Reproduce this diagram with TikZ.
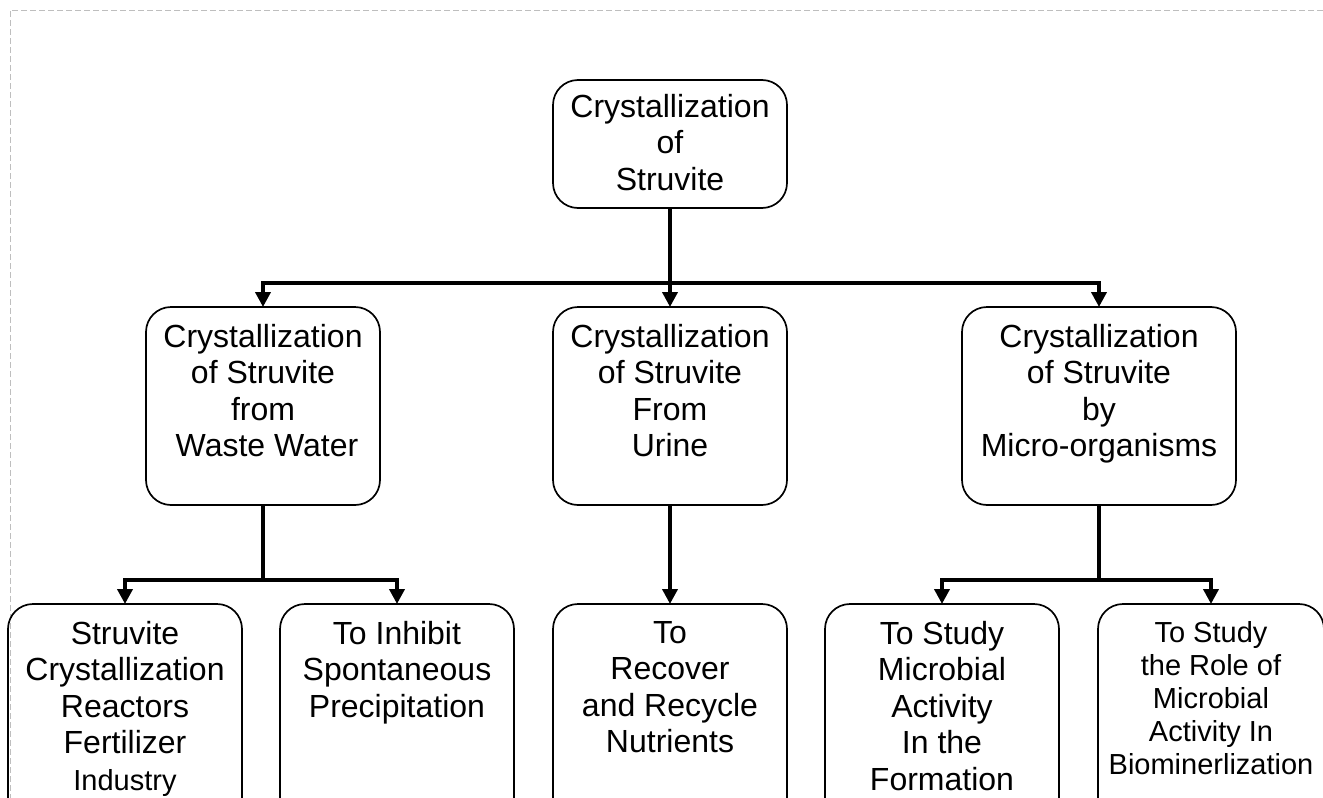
\documentclass[tikz,border=0pt]{standalone}
\usepackage{fontspec}
\setmainfont{Liberation Sans}
\usepackage{tikz}
\usetikzlibrary{arrows.meta, positioning}
\definecolor{framegrey}{RGB}{190,190,190}

\begin{document}
\begin{tikzpicture}[
  x=1pt, y=-1pt,
  box/.style={rectangle, rounded corners=25pt, draw=black, line width=1.7pt,
              minimum width=234pt, minimum height=198pt, inner sep=0pt, outer sep=0pt},
  leaf/.style={box, minimum height=240pt},
  boxtext/.style={align=center, inner sep=0pt, font=\fontsize{32}{36.5}\selectfont},
  smalltext/.style={boxtext, font=\fontsize{29}{33}\selectfont},
  link/.style={draw=black, line width=4pt},
  arrow/.style={link, -{Triangle[width=15pt, length=15pt]}},
  pageframe/.style={draw=framegrey, line width=1pt, dash pattern=on 6pt off 3pt}
]
\useasboundingbox (0,0) rectangle (1323,798);
\clip (0,0) rectangle (1323,798);
\draw[pageframe] (1323,10) -| (10,798);

\node[box, minimum height=128pt] (root) at (670,144) {};
\node[box, below=99pt of root] (urine) {};
\node[box, left=173pt of urine] (waste) {};
\node[box, right=175pt of urine, minimum width=274pt] (micro) {};
\node[leaf, below=99pt of urine] (recover) {};
\node[leaf, left=39pt of recover] (inhibit) {};
\node[leaf, left=38pt of inhibit] (reactor) {};
\node[leaf, right=38pt of recover] (formation) {};
\node[leaf, right=39pt of formation, minimum width=226pt] (biomin) {};

\node[boxtext, below=14pt of root.north] (roottxt) {Crystallization\\of\\Struvite};
\node[boxtext, below=17pt of waste.north] (wastetxt) {Crystallization\\of Struvite\\from\\\hspace*{8pt}Waste Water};
\node[boxtext, below=17pt of urine.north] (urinetxt) {Crystallization\\of Struvite\\From\\Urine};
\node[boxtext, below=17pt of micro.north] (microtxt) {Crystallization\\of Struvite\\by\\Micro-organisms};
\node[boxtext, below=17pt of reactor.north] (reactortxt) {Struvite\\Crystallization\\Reactors\\Fertilizer\\{\fontsize{29}{36.5}\selectfont Industry}};
\node[boxtext, below=17pt of inhibit.north] (inhibittxt) {To Inhibit\\Spontaneous\\Precipitation};
\node[boxtext, below=17pt of recover.north] (recovertxt) {To\\Recover\\and Recycle\\Nutrients};
\node[boxtext, below=17pt of formation.north] (formationtxt) {To Study\\Microbial\\Activity\\In the\\Formation};
\node[smalltext, below=17pt of biomin.north] (biomintxt) {To Study\\the Role of\\Microbial\\Activity In\\Biominerlization};

\coordinate (rootsplit) at ([yshift=-75pt]root.south);
\coordinate (wastesplit) at ([yshift=-75pt]waste.south);
\coordinate (microsplit) at ([yshift=-75pt]micro.south);

\draw[link] (root) -- (rootsplit);
\draw[arrow] (rootsplit) -| (waste);
\draw[arrow] (rootsplit) -- (urine);
\draw[arrow] (rootsplit) -| (micro);
\draw[link] (waste) -- (wastesplit);
\draw[arrow] (wastesplit) -| (reactor);
\draw[arrow] (wastesplit) -| (inhibit);
\draw[arrow] (urine) -- (recover);
\draw[link] (micro) -- (microsplit);
\draw[arrow] (microsplit) -| (formation);
\draw[arrow] (microsplit) -| (biomin);
\end{tikzpicture}
\end{document}
